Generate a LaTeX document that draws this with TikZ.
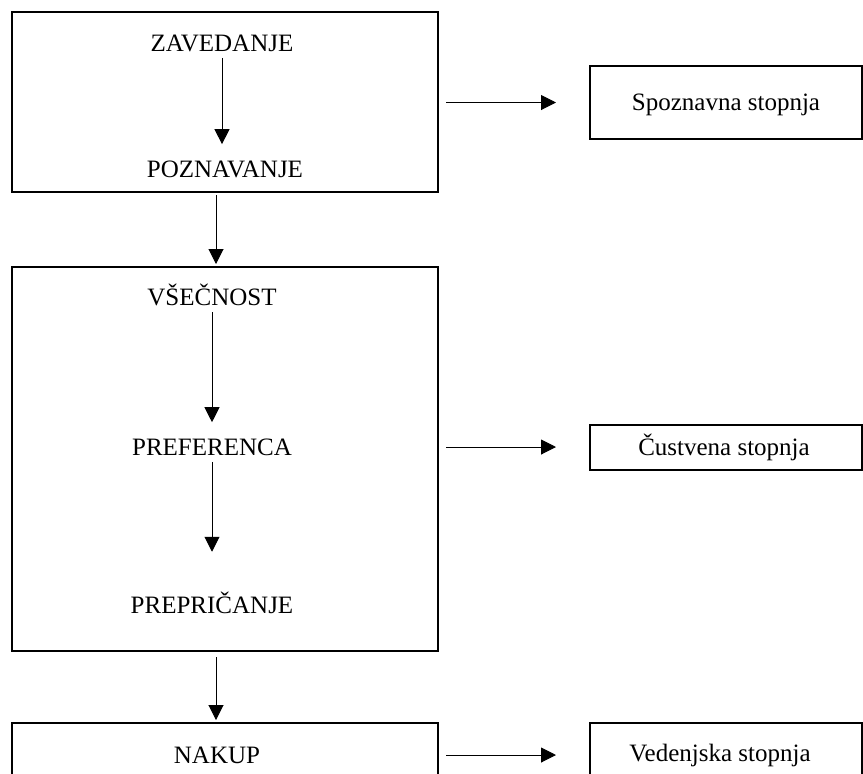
\documentclass[tikz,border=0pt]{standalone}
\usepackage{fontspec}
\setmainfont{Liberation Serif}
\usetikzlibrary{arrows.meta,positioning,calc}

\begin{document}
\begin{tikzpicture}[x=0.5pt,y=-0.5pt,
    frame/.style={draw,line width=1pt,inner sep=0pt},
    lbl/.style={font=\fontsize{12.5}{15}\selectfont,inner sep=3pt},
    arr/.style={-{Triangle[length=7.5pt,width=7.5pt]},line width=0.5pt}]
  \useasboundingbox (0,0) rectangle (863,773);
  \clip (0,0) rectangle (863,773);
  % left column: the three big boxes
  \node[frame,minimum width=213pt,minimum height=90pt] (box1) at (225,102) {};
  \node[frame,minimum width=213pt,minimum height=192pt] (box2) at (225,459) {};
  \node[frame,minimum width=213pt,minimum height=34pt] (box3) at (225,757) {};
  % texts inside
  \node[lbl] (zav) at (222,43) {ZAVEDANJE};
  \node[lbl] (poz) at (225,169) {POZNAVANJE};
  \node[lbl] (vse) at (212,295) {VŠEČNOST};
  \node[lbl] (pref) at (212,447) {PREFERENCA};
  \node[lbl] (prep) at (212,603) {PREPRIČANJE};
  \node[lbl] (nak) at (217,755) {NAKUP};
  % right column
  \node[frame,minimum width=136pt,minimum height=36.5pt] (spoz) at (726,102.5) {};
  \node[lbl] (spozt) at (726,105) {Spoznavna stopnja};
  \node[frame,minimum width=136pt,minimum height=22.5pt] (cust) at (726,447.5) {};
  \node[lbl] (custt) at (724,447) {Čustvena stopnja};
  \node[frame,minimum width=136pt,minimum height=34pt] (ved) at (726,757) {};
  \node[lbl] (vedt) at (720,755) {Vedenjska stopnja};
  % arrows
  \draw[arr,shorten >=5pt] (zav) -- (zav |- poz.north);
  \draw[arr,shorten >=5pt] (vse) -- (pref);
  \draw[arr,shorten >=17pt] (pref) -- (prep);
  \draw[arr] ([xshift=-4.5pt,yshift=-1pt]box1.south) -- ([xshift=-4.5pt,yshift=1pt]box2.north);
  \draw[arr] ([xshift=-4.5pt,yshift=-2.5pt]box2.south) -- ([xshift=-4.5pt,yshift=1pt]box3.north);
  \draw[arr] ([xshift=3.5pt]box1.east |- spoz) -- ([xshift=-16.5pt]spoz.west);
  \draw[arr] ([xshift=3.5pt]box2.east |- pref) -- ([xshift=-16.5pt]cust.west |- pref);
  \draw[arr] ([xshift=3.5pt]box3.east |- nak) -- ([xshift=-16.5pt]ved.west |- nak);
\end{tikzpicture}
\end{document}
